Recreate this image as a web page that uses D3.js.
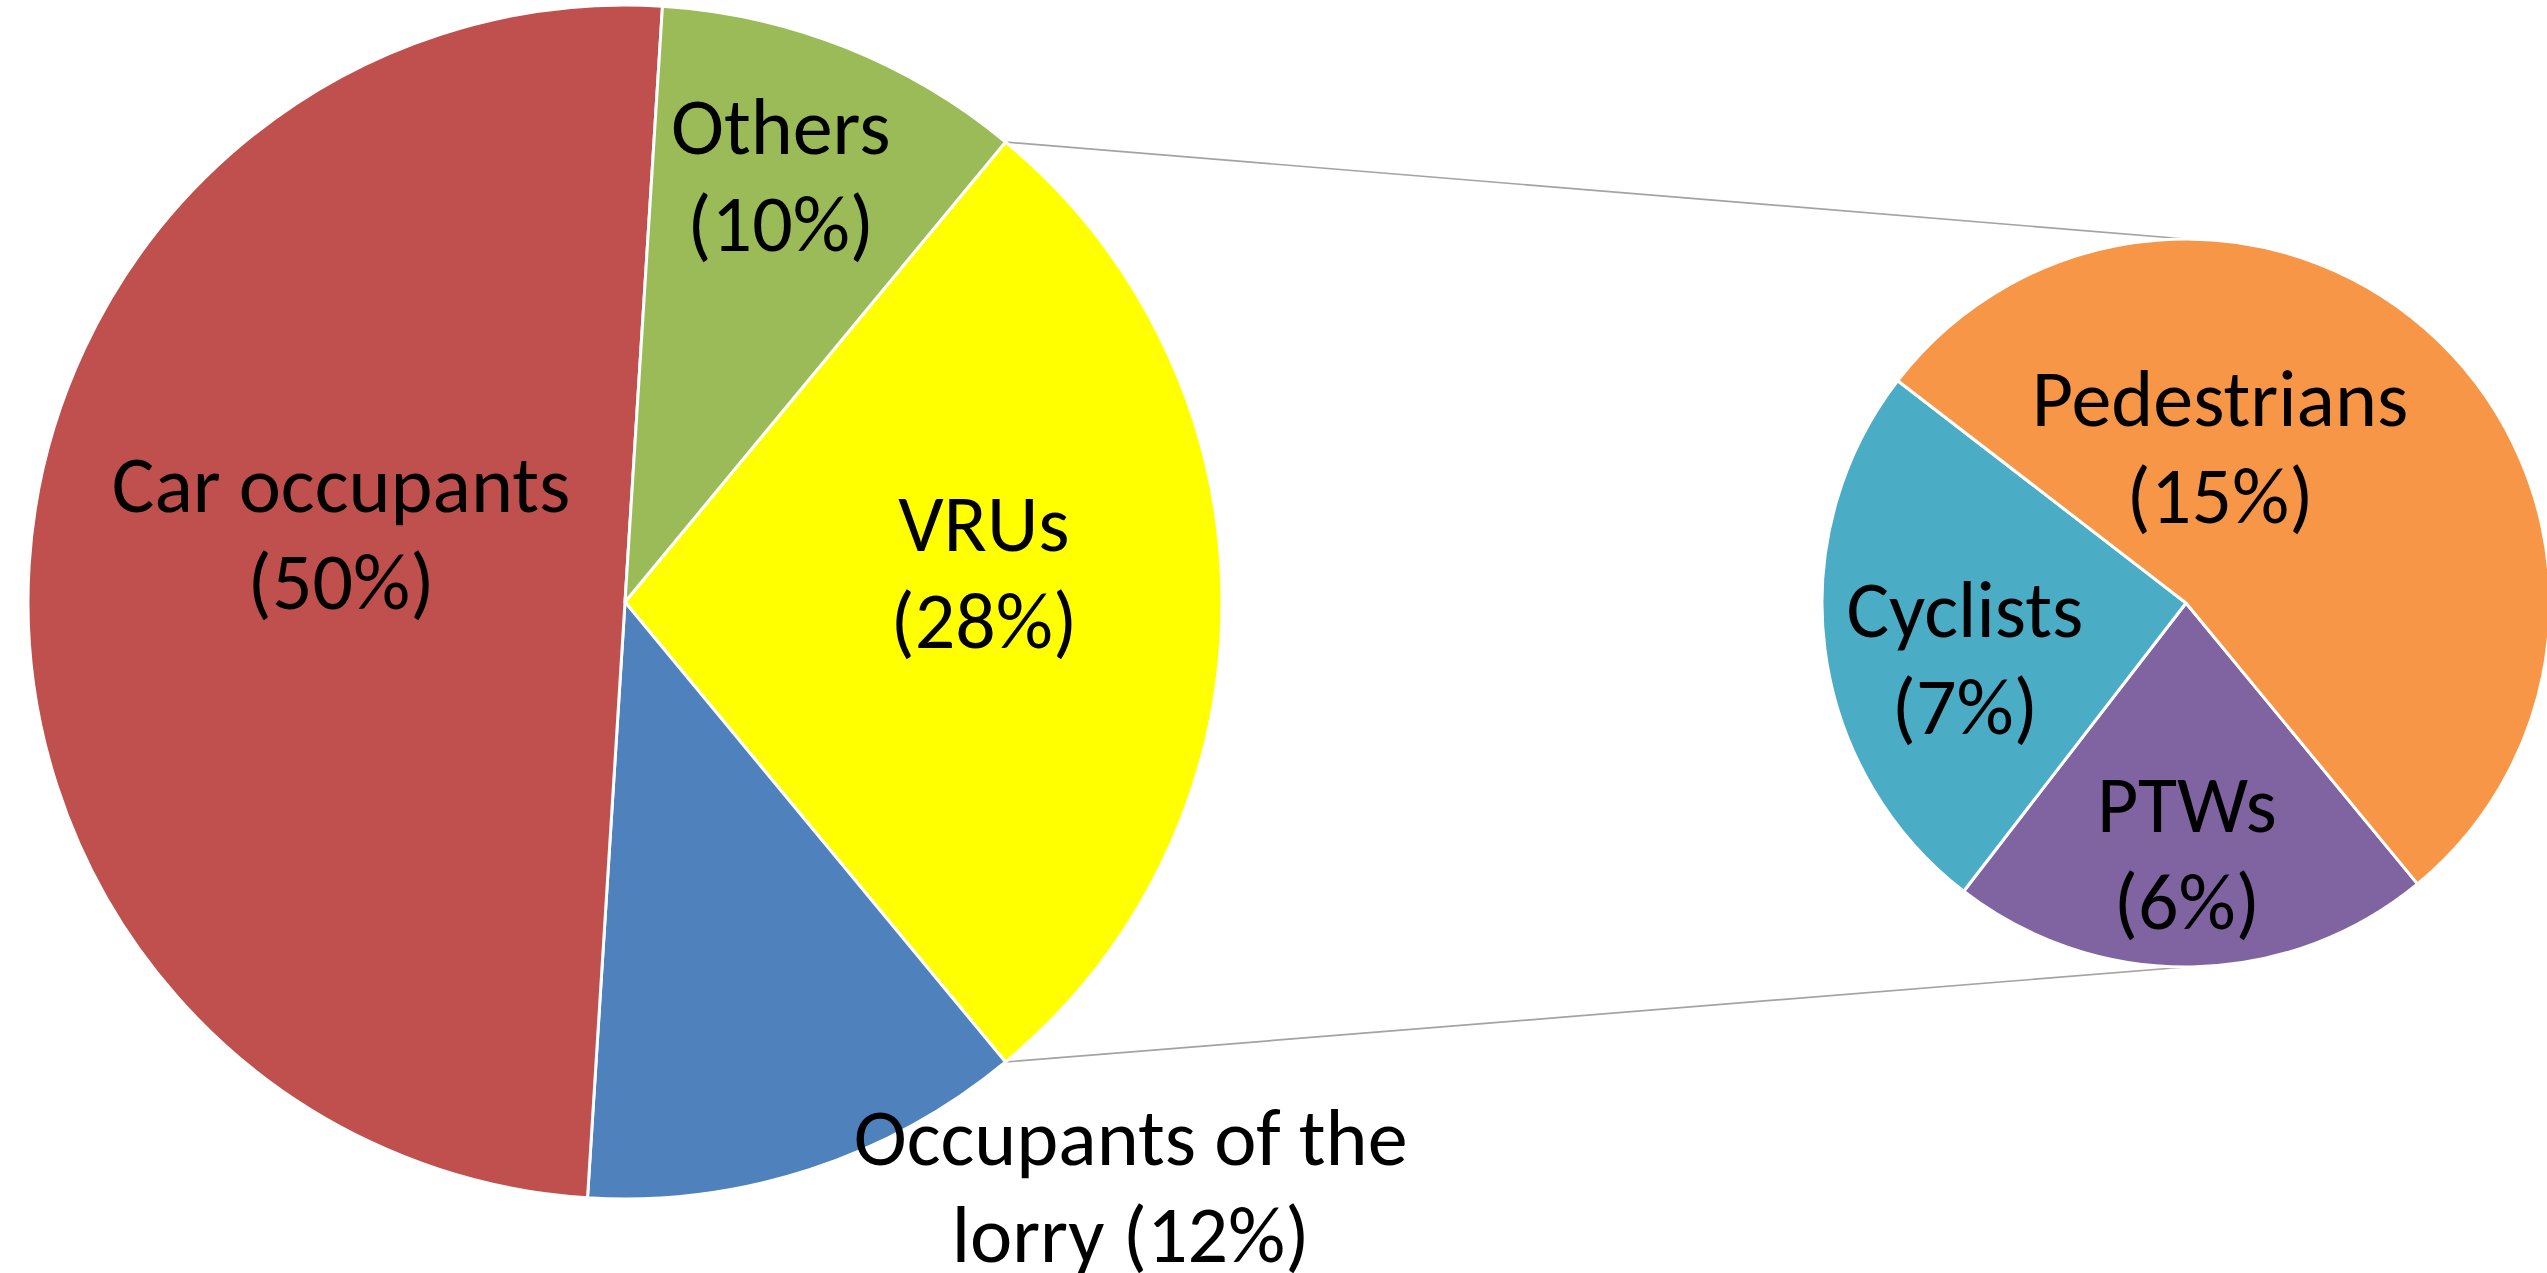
<!DOCTYPE html>
<html>
<head>
<meta charset="utf-8">
<script src="https://cdn.jsdelivr.net/npm/d3@7"></script>
<style>
  body { margin: 0; background: #fff; }
  svg { display: block; }
  .lbl { font-family: Calibri, Carlito, Lato, sans-serif; font-size: 80px; fill: #000; }
</style>
</head>
<body>
<div id="chart"></div>
<script>
// data ---------------------------------------------------------------------------------------------
const mainNames  = ["VRUs", "Occupants of the lorry", "Car occupants", "Others"];
const mainValues = [28, 12, 50, 10];
const mainColors = ["#FFFF00", "#4F81BD", "#C0504D", "#9BBB59"];
const mainLines  = [["VRUs", "(28%)"], ["Occupants of the", "lorry (12%)"], ["Car occupants", "(50%)"], ["Others", "(10%)"]];

const subNames  = ["PTWs", "Cyclists", "Pedestrians"];
const subValues = [6, 7, 15];
const subColors = ["#8064A2", "#4BACC6", "#F79646"];
const subLines  = [["PTWs", "(6%)"], ["Cyclists", "(7%)"], ["Pedestrians", "(15%)"]];

// label placement: [angle in degrees clockwise from 12 o'clock, distance as fraction of radius]
const mainLabelPos = [[85.5, 0.603], [139.2, 1.296], [283.4, 0.489], [20.1, 0.759]];
const subLabelPos  = [[179.8, 0.691], [255.7, 0.627], [12.4, 0.435]];

const width = 2547, height = 1273;
const lineGap = 97;

const svg = d3.select('#chart')
    .append('svg')
    .attr('width', width)
    .attr('height', height);

const rad = d => d * Math.PI / 180;

// main pie, the VRU slice is centred on 3 o'clock
const mainC = {x: 625, y: 602, r: 597};
const vruShare = mainValues[0] / d3.sum(mainValues);
const mainStart = Math.PI / 2 - vruShare * Math.PI;

const mainPie = d3.pie().sort(null)
    .startAngle(mainStart)
    .endAngle(mainStart + 2 * Math.PI);
const mainArcs = mainPie(mainValues);

// secondary pie
const subC = {x: 2186, y: 603, r: 364};
const subStart = rad(140.5);
const subPie = d3.pie().sort(null)
    .startAngle(subStart)
    .endAngle(subStart + 2 * Math.PI);
const subArcs = subPie(subValues);

// connector lines from the VRU slice edge to top and bottom of the second pie
const vru = mainArcs[0];
const onCircle = (c, a) => [c.x + c.r * Math.sin(a), c.y - c.r * Math.cos(a)];
const connectors = [
    [onCircle(mainC, vru.startAngle), [subC.x, subC.y - subC.r]],
    [onCircle(mainC, vru.endAngle), [subC.x, subC.y + subC.r]]
];
svg.selectAll('line.conn')
    .data(connectors)
    .join('line')
    .attr('class', 'conn')
    .attr('x1', d => d[0][0]).attr('y1', d => d[0][1])
    .attr('x2', d => d[1][0]).attr('y2', d => d[1][1])
    .attr('stroke', '#a3a3a3')
    .attr('stroke-width', 1.7);

function drawPie(c, arcs, colors, lines, pos) {
    const arc = d3.arc().innerRadius(0).outerRadius(c.r);
    const g = svg.append('g').attr('transform', `translate(${c.x},${c.y})`);

    g.selectAll('path')
        .data(arcs)
        .join('path')
        .attr('d', arc)
        .attr('fill', (d, i) => colors[i])
        .attr('stroke', '#fff')
        .attr('stroke-width', 3)
        .attr('stroke-linejoin', 'round');

    const t = g.selectAll('text')
        .data(arcs)
        .join('text')
        .attr('class', 'lbl')
        .attr('text-anchor', 'middle')
        .attr('transform', (d, i) => {
            const a = rad(pos[i][0]), dist = pos[i][1] * c.r;
            return `translate(${dist * Math.sin(a)},${-dist * Math.cos(a)})`;
        });

    t.selectAll('tspan')
        .data((d, i) => lines[i])
        .join('tspan')
        .attr('x', 0)
        .attr('y', (d, j) => (j === 0 ? -lineGap / 2 : lineGap / 2) + 26)
        .text(d => d);
}

drawPie(mainC, mainArcs, mainColors, mainLines, mainLabelPos);
drawPie(subC, subArcs, subColors, subLines, subLabelPos);
</script>
</body>
</html>
